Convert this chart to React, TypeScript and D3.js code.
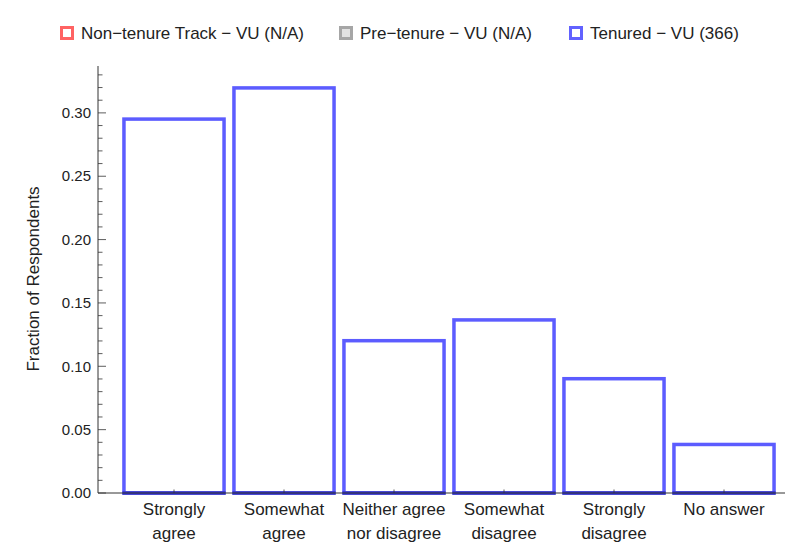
import React, { useEffect, useRef } from "react";
import * as d3 from "d3";

const categories = [
  "Strongly\nagree",
  "Somewhat\nagree",
  "Neither agree\nnor disagree",
  "Somewhat\ndisagree",
  "Strongly\ndisagree",
  "No answer",
];
const tenuredValues = [0.2951, 0.3197, 0.1202, 0.1366, 0.0902, 0.0383];
const yTicks = [0, 0.05, 0.1, 0.15, 0.2, 0.25, 0.3];
const legendLabels = [
  "Non\u2212tenure Track \u2212 VU (N/A)",
  "Pre\u2212tenure \u2212 VU (N/A)",
  "Tenured \u2212 VU (366)",
];
const legendFill = ["#ffffff", "#e2e2e2", "#ffffff"];
const legendStroke = ["#ff6363", "#a6a6a6", "#6262ff"];
const legendX = [60, 339, 569];

const W = 785;
const H = 554;
const font = "'Liberation Sans', Arial, sans-serif";

const App = () => {
  const ref = useRef<SVGSVGElement | null>(null);

  useEffect(() => {
    const svg = d3.select(ref.current!);
    svg.selectAll("*").remove();

    const x = d3.scaleBand().domain(categories).range([119, 779]).paddingInner(0.09).paddingOuter(0.045);
    const y = d3.scaleLinear().domain([0, 0.337]).range([493, 66]);

    // bars
    svg.append("g")
      .selectAll("rect")
      .data(tenuredValues)
      .join("rect")
      .attr("x", (_, i) => x(categories[i])!)
      .attr("width", x.bandwidth())
      .attr("y", d => y(d))
      .attr("height", d => y(0) - y(d))
      .attr("fill", "white")
      .attr("stroke", "#5c5cff")
      .attr("stroke-width", 3.5);

    // bottom edges darker where they meet the axis
    svg.append("g")
      .selectAll("line")
      .data(tenuredValues)
      .join("line")
      .attr("x1", (_, i) => x(categories[i])! - 1.5)
      .attr("x2", (_, i) => x(categories[i])! + x.bandwidth() + 1.5)
      .attr("y1", y(0))
      .attr("y2", y(0))
      .attr("stroke", "#3434c8")
      .attr("stroke-width", 3.5);

    const axisColor = "#333";

    // y axis
    const ya = svg.append("g");
    ya.append("line").attr("x1", 98).attr("x2", 98).attr("y1", 66).attr("y2", 493)
      .attr("stroke", axisColor).attr("stroke-width", 1);
    const minor = d3.range(0, 0.3351, 0.01).filter(v => Math.abs(v * 20 - Math.round(v * 20)) > 1e-6);
    ya.selectAll("line.minor").data(minor).join("line").attr("class", "minor")
      .attr("x1", 98).attr("x2", 102.5).attr("y1", d => y(d)).attr("y2", d => y(d))
      .attr("stroke", axisColor).attr("stroke-width", 0.8);
    ya.selectAll("line.major").data(yTicks).join("line").attr("class", "major")
      .attr("x1", 98).attr("x2", 106).attr("y1", d => y(d)).attr("y2", d => y(d))
      .attr("stroke", axisColor).attr("stroke-width", 0.8);
    ya.selectAll("text").data(yTicks).join("text")
      .attr("x", 91).attr("y", d => y(d)).attr("dy", "0.35em")
      .attr("text-anchor", "end").attr("font-family", font).attr("font-size", 15)
      .attr("fill", "#222")
      .text(d => d3.format(".2f")(d));

    // x axis
    const xa = svg.append("g");
    xa.append("line").attr("x1", 98).attr("x2", W).attr("y1", 493).attr("y2", 493)
      .attr("stroke", axisColor).attr("stroke-width", 1);
    xa.selectAll("line.tick").data(categories).join("line").attr("class", "tick")
      .attr("x1", d => x(d)! + x.bandwidth() / 2).attr("x2", d => x(d)! + x.bandwidth() / 2)
      .attr("y1", 493).attr("y2", 489.5)
      .attr("stroke", axisColor).attr("stroke-width", 0.8);
    const labels = xa.selectAll("text").data(categories).join("text")
      .attr("x", d => x(d)! + x.bandwidth() / 2).attr("y", 515)
      .attr("text-anchor", "middle").attr("font-family", font).attr("font-size", 17)
      .attr("fill", "#222");
    labels.each(function (d) {
      const t = d3.select(this);
      d.split("\n").forEach((line, i) => {
        t.append("tspan").attr("x", x(d)! + x.bandwidth() / 2).attr("dy", i === 0 ? 0 : 24).text(line);
      });
    });

    // y label
    svg.append("text")
      .attr("transform", `translate(39,279) rotate(-90)`)
      .attr("text-anchor", "middle").attr("font-family", font).attr("font-size", 17)
      .attr("fill", "#222")
      .text("Fraction of Respondents");

    // legend
    const lg = svg.append("g").selectAll("g").data(legendLabels).join("g")
      .attr("transform", (_, i) => `translate(${legendX[i]},26)`);
    lg.append("rect").attr("x", 1.5).attr("y", 1.5).attr("width", 11).attr("height", 11)
      .attr("fill", (_, i) => legendFill[i]).attr("stroke", (_, i) => legendStroke[i]).attr("stroke-width", 3);
    lg.append("text").attr("x", 21).attr("y", 7).attr("dy", "0.35em")
      .attr("font-family", font).attr("font-size", 17).attr("fill", "#222")
      .text(d => d);
  }, []);

  return <svg ref={ref} width={W} height={H} style={{ display: "block", position: "absolute", left: 0, top: 0, background: "white" }} />;
};

export default App;
